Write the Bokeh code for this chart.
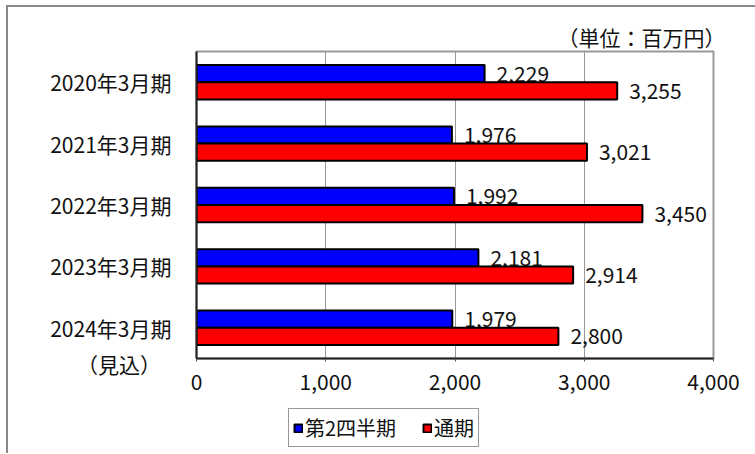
from bokeh.plotting import figure
from bokeh.layouts import column
from bokeh.models import (ColumnDataSource, Range1d, FactorRange, NumeralTickFormatter,
                          FixedTicker, Legend, LegendItem)
from bokeh.transform import dodge
from bokeh.embed import file_html
from bokeh.resources import INLINE

categories = ["2020年3月期", "2021年3月期", "2022年3月期", "2023年3月期", " \n2024年3月期\n（見込）\u3000"]
q2_values = [2229, 1976, 1992, 2181, 1979]
full_values = [3255, 3021, 3450, 2914, 2800]
series_names = ["第2四半期", "通期"]
x_ticks = [0, 1000, 2000, 3000, 4000]
unit_label = "（単位：百万円）"

FONT = "Noto Sans CJK JP"
BLUE = "#0000FF"
RED = "#FF0000"

src = ColumnDataSource(dict(
    cat=categories,
    q2=q2_values,
    full=full_values,
    q2_txt=[f"{v:,}" for v in q2_values],
    full_txt=[f"{v:,}" for v in full_values],
))

p = figure(width=747, height=400, output_backend="svg", toolbar_location=None,
           y_range=FactorRange(*reversed(categories)), x_range=Range1d(0, 4000),
           min_border_left=188, min_border_right=42, min_border_top=44, min_border_bottom=49,
           title=unit_label)

p.title.align = "right"
p.title.text_font = FONT
p.title.text_font_size = "21px"
p.title.text_font_style = "normal"
p.title.text_color = "#111"
p.title.vertical_align = "bottom"
p.title.standoff = 0
p.title.offset = -12

p.outline_line_color = "#999"
p.outline_line_width = 2

bh = 0.28
p.hbar(y=dodge("cat", 0.14, range=p.y_range), right="q2", height=bh, left=0, source=src,
       fill_color=BLUE, line_color="black", line_width=2)
p.text(x="q2", y=dodge("cat", 0.14, range=p.y_range), text="q2_txt", source=src,
       x_offset=12, text_baseline="middle", text_font={"value": FONT}, text_font_size="21px",
       text_color="#111")
p.hbar(y=dodge("cat", -0.14, range=p.y_range), right="full", height=bh, left=0, source=src,
       fill_color=RED, line_color="black", line_width=2)
p.text(x="full", y=dodge("cat", -0.14, range=p.y_range), text="full_txt", source=src,
       x_offset=12, text_baseline="middle", text_font={"value": FONT}, text_font_size="21px",
       text_color="#111")

# grids
p.ygrid.visible = False
p.xgrid.ticker = FixedTicker(ticks=x_ticks)
p.xgrid.grid_line_color = "#999"
p.xgrid.grid_line_width = 1

# x axis
p.xaxis.ticker = FixedTicker(ticks=x_ticks)
p.xaxis.formatter = NumeralTickFormatter(format="0,0")
p.xaxis.axis_line_color = "#222"
p.xaxis.axis_line_width = 2
p.xaxis.major_tick_in = 0
p.xaxis.major_tick_out = 3
p.xaxis.major_tick_line_color = "#555"
p.xaxis.minor_tick_line_color = None
p.xaxis.major_label_standoff = 12
p.xaxis.major_label_text_font = FONT
p.xaxis.major_label_text_font_size = "21px"
p.xaxis.major_label_text_color = "#111"

# y axis
p.yaxis.axis_line_color = "#222"
p.yaxis.axis_line_width = 2
p.yaxis.major_tick_line_color = None
p.yaxis.minor_tick_line_color = None
p.yaxis.major_label_standoff = 19
p.yaxis.major_label_text_font = FONT
p.yaxis.major_label_text_font_size = "21px"
p.yaxis.major_label_text_color = "#111"

# legend strip below the chart (frames are aligned with the chart above)
q = figure(width=747, height=46, output_backend="svg", toolbar_location=None,
           x_axis_location=None, y_axis_location=None,
           min_border_left=0, min_border_right=0, min_border_top=0, min_border_bottom=0)
q.grid.visible = False
q.outline_line_color = None
proxy = ColumnDataSource(dict(y=[0], right=[0]))
l1 = q.hbar(y="y", right="right", height=1, source=proxy, fill_color=BLUE,
            line_color="black", line_width=2, visible=False)
l2 = q.hbar(y="y", right="right", height=1, source=proxy, fill_color=RED,
            line_color="black", line_width=2, visible=False)

legend = Legend(items=[LegendItem(label=series_names[0], renderers=[l1]),
                       LegendItem(label=series_names[1], renderers=[l2])],
                orientation="horizontal", location=(92, 6))
legend.label_text_font = FONT
legend.label_text_font_size = "20px"
legend.label_text_color = "#111"
legend.label_height = 20
legend.glyph_width = 10
legend.glyph_height = 10
legend.label_standoff = 2
legend.spacing = 26
legend.padding = 4
legend.margin = 0
legend.border_line_color = "#333"
legend.border_line_width = 1
legend.background_fill_alpha = 1
legend.inactive_fill_alpha = 0
q.add_layout(legend, "center")

layout = column(p, q, spacing=0,
                styles={"border-left": "2px solid #888", "border-top": "2px solid #888",
                        "margin-left": "6px", "margin-top": "5px"})

open("out.html", "w").write(file_html(layout, INLINE))
